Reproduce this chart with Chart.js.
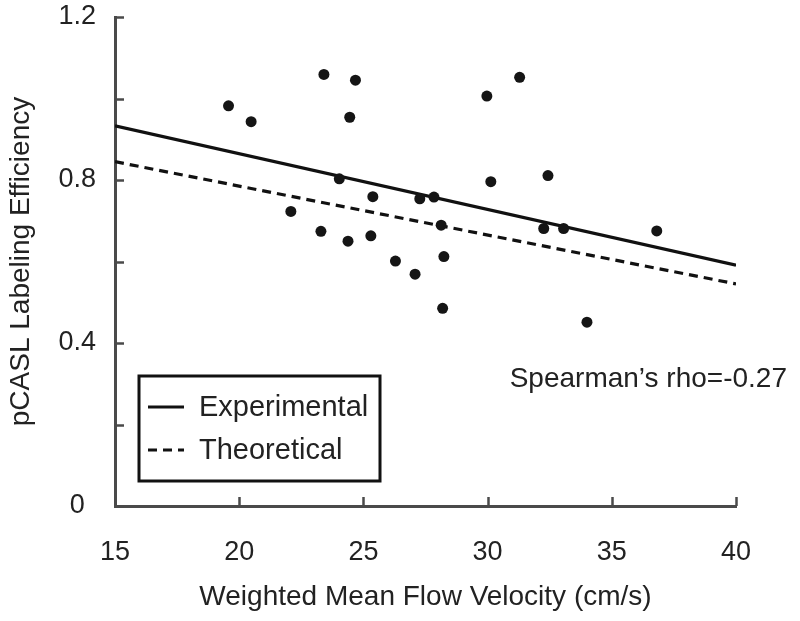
<!DOCTYPE html>
<html>
<head>
<meta charset="utf-8">
<script src="https://cdn.jsdelivr.net/npm/chart.js@4.4.1/dist/chart.umd.min.js"></script>
<style>
  body { margin: 0; background: #fff; }
  #wrap { width: 800px; height: 621px; }
</style>
</head>
<body>
<div id="wrap"><canvas id="chartFlow" width="800" height="621"></canvas></div>
<script>
// puntos medidos (velocidad, eficiencia)
const velX = [19.57, 20.48, 23.41, 24.68, 24.45, 24.03, 25.38, 27.27, 27.84, 29.97, 31.29, 30.13, 32.43,
              22.08, 23.29, 24.38, 25.30, 28.13, 26.29, 27.08, 28.24, 28.19, 32.26, 33.06, 36.81, 34.00];
const effY = [0.982, 0.943, 1.059, 1.045, 0.954, 0.803, 0.759, 0.754, 0.758, 1.006, 1.052, 0.796, 0.811,
              0.723, 0.674, 0.650, 0.663, 0.689, 0.601, 0.569, 0.612, 0.485, 0.681, 0.681, 0.675, 0.451];

// rectas de ajuste
const lineX = [15, 40];
const expY = [0.933, 0.591];
const theoY = [0.845, 0.545];

const yTicksShown = [0, 0.4, 0.8, 1.2];
const legendLabels = ['Experimental', 'Theoretical'];
const rhoText = 'Spearman\u2019s rho=-0.27';

const FONT = '"Liberation Sans", Arial, Helvetica, sans-serif';
const AXIS_COLOR = '#4a4a4a';
const TEXT_COLOR = '#222';

const toPoints = (xs, ys) => xs.map((x, i) => ({ x: x, y: ys[i] }));

// ticks hacia dentro, leyenda con recuadro y texto de rho
const extras = {
    id: 'extras',
    afterDraw(chart) {
        const ctx = chart.ctx;
        const area = chart.chartArea;
        const sx = chart.scales.x;
        const sy = chart.scales.y;
        ctx.save();
        ctx.strokeStyle = AXIS_COLOR;
        ctx.lineWidth = 2.5;
        sy.ticks.forEach(t => {
            const py = Math.round(sy.getPixelForValue(t.value)) + 0.5;
            ctx.beginPath();
            ctx.moveTo(area.left, py);
            ctx.lineTo(area.left + 9, py);
            ctx.stroke();
        });
        sx.ticks.forEach(t => {
            const px = Math.round(sx.getPixelForValue(t.value)) + 0.5;
            ctx.beginPath();
            ctx.moveTo(px, area.bottom);
            ctx.lineTo(px, area.bottom - 9);
            ctx.stroke();
        });

        // leyenda
        const bx = area.left + 24, by = area.bottom - 130, bw = 241, bh = 105;
        ctx.strokeStyle = '#111';
        ctx.lineWidth = 3;
        ctx.strokeRect(bx, by, bw, bh);
        ctx.font = '29px ' + FONT;
        ctx.fillStyle = TEXT_COLOR;
        ctx.textBaseline = 'middle';
        ctx.textAlign = 'left';
        const rows = [by + 31, by + 74];
        chart.data.datasets.slice(1).forEach((ds, i) => {
            ctx.strokeStyle = ds.borderColor;
            ctx.lineWidth = ds.borderWidth;
            ctx.setLineDash(ds.borderDash || []);
            ctx.beginPath();
            ctx.moveTo(bx + 9, rows[i]);
            ctx.lineTo(bx + 45, rows[i]);
            ctx.stroke();
            ctx.setLineDash([]);
            ctx.fillText(legendLabels[i], bx + 60, rows[i] + 1);
        });

        // texto de correlacion
        ctx.font = '28px ' + FONT;
        ctx.textAlign = 'right';
        ctx.fillText(rhoText, area.right + 51, sy.getPixelForValue(0.31));
        ctx.restore();
    }
};

const ctx = document.getElementById('chartFlow').getContext('2d');

const chartFlow = new Chart(ctx, {
    type: 'scatter',
    data: {
        datasets: [
            {
                label: 'Data',
                data: toPoints(velX, effY),
                pointRadius: 5.5,
                pointBackgroundColor: '#151515',
                pointBorderWidth: 0,
                showLine: false
            },
            {
                label: legendLabels[0],
                data: toPoints(lineX, expY),
                showLine: true,
                borderColor: '#111',
                borderWidth: 3.2,
                pointRadius: 0
            },
            {
                label: legendLabels[1],
                data: toPoints(lineX, theoY),
                showLine: true,
                borderColor: '#111',
                borderWidth: 3.2,
                borderDash: [9, 6],
                pointRadius: 0
            }
        ]
    },
    options: {
        responsive: false,
        animation: false,
        layout: { padding: { top: 17, right: 64, left: 0, bottom: 0 } },
        plugins: {
            legend: { display: false },
            tooltip: { enabled: false }
        },
        scales: {
            x: {
                type: 'linear',
                min: 15,
                max: 40,
                afterFit: s => {
                    s.height = 115;
                    s.paddingLeft = 0;
                    s.paddingRight = 0;
                },
                ticks: {
                    stepSize: 5,
                    padding: 30,
                    color: TEXT_COLOR,
                    font: { family: FONT, size: 27 },
                    maxRotation: 0
                },
                grid: { drawOnChartArea: false, drawTicks: false },
                border: { color: AXIS_COLOR, width: 3 },
                title: {
                    display: true,
                    text: 'Weighted Mean Flow Velocity (cm/s)',
                    color: TEXT_COLOR,
                    font: { family: FONT, size: 28 },
                    padding: { top: 0, bottom: 7 }
                }
            },
            y: {
                min: 0,
                max: 1.2,
                afterFit: s => {
                    s.width = 115;
                    s.paddingTop = 0;
                    s.paddingBottom = 0;
                },
                ticks: {
                    stepSize: 0.2,
                    padding: 19,
                    crossAlign: 'center',
                    color: TEXT_COLOR,
                    font: { family: FONT, size: 27 },
                    callback: v => {
                        const r = Math.round(v * 10) / 10;
                        return yTicksShown.includes(r) ? String(r) : '';
                    }
                },
                grid: { drawOnChartArea: false, drawTicks: false },
                border: { color: AXIS_COLOR, width: 3 },
                title: {
                    display: true,
                    text: 'pCASL Labeling Efficiency',
                    color: TEXT_COLOR,
                    font: { family: FONT, size: 28 },
                    padding: { top: 4, bottom: 0 }
                }
            }
        }
    },
    plugins: [extras]
});
</script>
</body>
</html>
